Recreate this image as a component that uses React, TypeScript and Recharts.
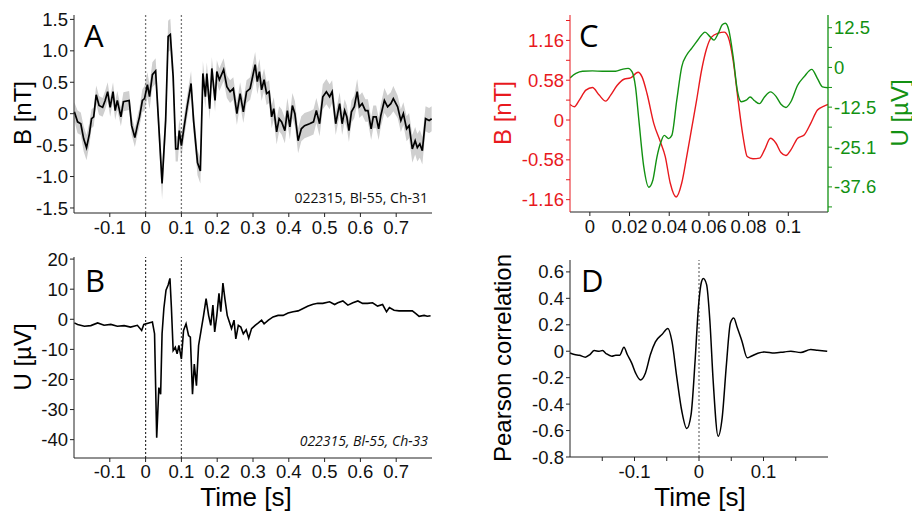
import React from 'react';
import { ComposedChart, LineChart, Line, Area, XAxis, YAxis, ReferenceLine } from 'recharts';

const W = 912;
const H = 511;
const FONT = 'Liberation Sans, Arial, sans-serif';
const LETTER_FONT = 'Open Sans, sans-serif';
const RED = '#e8191e';
const GREEN = '#129112';

// Panel A: mean B field (nT) with error band
const timeA = [
  -0.199, -0.19, -0.181, -0.173, -0.165, -0.157, -0.151, -0.145, -0.138, -0.13,
  -0.12, -0.113, -0.106, -0.099, -0.091, -0.085, -0.079, -0.069, -0.062, -0.046,
  -0.039, -0.03, -0.023, -0.017, -0.009, -0.003, 0.005, 0.011, 0.019, 0.028,
  0.037, 0.046, 0.056, 0.063, 0.069, 0.077, 0.084, 0.09, 0.094, 0.1,
  0.106, 0.116, 0.127, 0.134, 0.145, 0.153, 0.16, 0.167, 0.171, 0.179,
  0.185, 0.194, 0.199, 0.206, 0.218, 0.227, 0.236, 0.245, 0.255, 0.264,
  0.273, 0.282, 0.292, 0.306, 0.312, 0.318, 0.324, 0.331, 0.338, 0.345,
  0.352, 0.358, 0.366, 0.373, 0.38, 0.389, 0.396, 0.403, 0.41, 0.417,
  0.426, 0.435, 0.444, 0.458, 0.469, 0.477, 0.486, 0.495, 0.505, 0.514,
  0.521, 0.531, 0.542, 0.549, 0.556, 0.562, 0.568, 0.575, 0.583, 0.591,
  0.597, 0.605, 0.614, 0.621, 0.63, 0.636, 0.644, 0.651, 0.657, 0.667,
  0.676, 0.685, 0.692, 0.704, 0.713, 0.72, 0.729, 0.736, 0.745, 0.753,
  0.759, 0.766, 0.773, 0.782, 0.792, 0.799,
];
const valA = [
  0.03, -0.13, -0.16, -0.4, -0.54, -0.32, -0.08, -0.05, 0.3, 0.13,
  0.1, 0.21, 0.35, 0.1, 0.35, 0.05, 0.21, -0.05, 0.19, 0.21,
  -0.19, -0.38, -0.19, -0.05, 0.21, 0.24, 0.46, 0.27, 0.62, 0.68,
  -0.21, -1.11, -0.11, 1.23, 1.26, 0.59, -0.56, -0.56, -0.27, -0.51,
  -0.27, 0.11, 0.48, -0.11, -0.78, -0.91, 0.64, 0.27, 0.64, 0.08,
  0.72, 0.21, 0.67, 0.54, 0.7, 0.43, 0.35, 0.4, 0.0, 0.32,
  0.03, 0.35, 0.4, 0.78, 0.51, 0.67, 0.38, 0.54, 0.32, 0.35,
  -0.05, 0.08, -0.29, -0.08, -0.13, -0.27, 0.05, -0.21, 0.13, 0.0,
  -0.43, -0.24, -0.19, -0.16, -0.13, 0.05, -0.16, 0.27, 0.35, 0.27,
  0.35, -0.16, 0.16, -0.16, 0.05, -0.05, -0.27, 0.03, 0.11, 0.35,
  0.11, 0.16, 0.05, 0.05, -0.24, -0.05, -0.05, -0.24, -0.03, 0.21,
  0.11, 0.16, 0.24, 0.11, -0.11, 0.0, -0.24, -0.19, -0.56, -0.43,
  -0.54, -0.48, -0.59, -0.08, -0.11, -0.08,
];
const errA = [
  0.15, 0.18, 0.18, 0.2, 0.2, 0.18, 0.15, 0.15, 0.15, 0.15,
  0.15, 0.15, 0.15, 0.15, 0.15, 0.15, 0.15, 0.15, 0.15, 0.15,
  0.15, 0.15, 0.15, 0.15, 0.18, 0.2, 0.2, 0.2, 0.2, 0.2,
  0.22, 0.25, 0.25, 0.25, 0.25, 0.22, 0.2, 0.2, 0.18, 0.18,
  0.18, 0.18, 0.2, 0.2, 0.2, 0.2, 0.2, 0.18, 0.18, 0.18,
  0.18, 0.18, 0.18, 0.18, 0.18, 0.18, 0.18, 0.18, 0.18, 0.18,
  0.18, 0.18, 0.18, 0.2, 0.2, 0.2, 0.18, 0.18, 0.18, 0.18,
  0.18, 0.18, 0.2, 0.2, 0.2, 0.2, 0.2, 0.2, 0.2, 0.2,
  0.2, 0.2, 0.2, 0.2, 0.2, 0.2, 0.2, 0.2, 0.2, 0.2,
  0.18, 0.18, 0.18, 0.18, 0.18, 0.18, 0.18, 0.18, 0.18, 0.2,
  0.18, 0.18, 0.18, 0.18, 0.18, 0.18, 0.18, 0.18, 0.18, 0.2,
  0.18, 0.18, 0.2, 0.18, 0.18, 0.18, 0.2, 0.2, 0.22, 0.22,
  0.22, 0.22, 0.22, 0.2, 0.2, 0.2,
];

// Panel B: LFP voltage (µV)
const timeB = [
  -0.199, -0.19, -0.171, -0.153, -0.134, -0.116, -0.097, -0.079, -0.06, -0.042,
  -0.023, -0.011, -0.005, 0.009, 0.019, 0.025, 0.031, 0.037, 0.042, 0.046,
  0.051, 0.057, 0.063, 0.068, 0.072, 0.077, 0.083, 0.088, 0.093, 0.1,
  0.106, 0.113, 0.12, 0.125, 0.131, 0.136, 0.142, 0.148, 0.155, 0.162,
  0.169, 0.176, 0.182, 0.188, 0.193, 0.199, 0.205, 0.21, 0.216, 0.222,
  0.228, 0.234, 0.24, 0.247, 0.252, 0.259, 0.266, 0.273, 0.281, 0.288,
  0.296, 0.306, 0.315, 0.324, 0.331, 0.343, 0.356, 0.37, 0.384, 0.398,
  0.412, 0.426, 0.44, 0.454, 0.468, 0.481, 0.495, 0.514, 0.528, 0.537,
  0.551, 0.565, 0.579, 0.593, 0.606, 0.62, 0.634, 0.648, 0.662, 0.673,
  0.681, 0.694, 0.708, 0.727, 0.745, 0.755, 0.764, 0.778, 0.787, 0.796,
];
const valB = [
  -1.2, -1.7, -2.3, -2.1, -1.2, -2.0, -1.7, -2.3, -2.1, -2.6,
  -2.0, -3.7, -1.7, -1.2, -0.9, -4.8, -39.4, -22.7, -24.9, -4.8,
  3.6, 9.7, 11.4, 13.6, 4.1, -10.4, -9.3, -11.5, -8.7, -13.2,
  -3.7, -1.5, -5.4, -5.9, -24.9, -14.9, -22.1, -8.7, -3.7, 1.3,
  6.9, 1.3, -2.0, 4.7, -4.2, 1.3, 8.6, 2.5, 12.0, 6.4,
  1.3, -0.9, -3.1, -0.3, -6.5, -2.0, -2.6, -4.8, -3.5, -6.3,
  -3.1, -2.0, -1.2, -0.3, -1.5, -0.3, 0.8, 1.3, 1.3, 2.1,
  2.5, 2.8, 3.6, 4.4, 5.0, 5.3, 5.3, 5.8, 4.9, 5.5,
  6.1, 4.7, 5.5, 6.1, 5.3, 5.3, 5.5, 4.4, 4.9, 2.5,
  3.9, 3.0, 2.8, 2.8, 2.8, 1.9, 1.0, 1.3, 1.0, 1.2,
];

// Panel C: zoomed overlay, B (red, left axis) and U (green, right axis)
const timeCB = [
  -0.01, -0.0078, -0.0053, -0.002, 0.0013, 0.0047, 0.008, 0.0105, 0.0138, 0.0172,
  0.0205, 0.0243, 0.0263, 0.0288, 0.0322, 0.0355, 0.038, 0.0405, 0.0435, 0.0463,
  0.0488, 0.0513, 0.0538, 0.0563, 0.0588, 0.0613, 0.0647, 0.0677, 0.0697, 0.0722,
  0.0747, 0.0772, 0.0793, 0.0822, 0.0855, 0.088, 0.091, 0.0938, 0.0963, 0.0988,
  0.1013, 0.1047, 0.108, 0.1113, 0.1147, 0.118, 0.12,
];
const valCB = [
  0.227, 0.193, 0.29, 0.435, 0.474, 0.363, 0.275, 0.363, 0.507, 0.594,
  0.614, 0.696, 0.628, 0.387, -0.048, -0.314, -0.532, -0.918, -1.121, -0.918,
  -0.532, -0.121, 0.29, 0.725, 1.039, 1.208, 1.266, 1.281, 1.208, 0.87,
  0.29, -0.242, -0.532, -0.565, -0.556, -0.435, -0.266, -0.338, -0.474, -0.517,
  -0.435, -0.266, -0.217, -0.048, 0.145, 0.203, 0.227,
];
const timeCU = [
  -0.01, -0.007, -0.0037, 0.0013, 0.0063, 0.013, 0.0163, 0.0193, 0.0213, 0.023,
  0.0247, 0.0272, 0.0297, 0.0317, 0.0338, 0.0358, 0.0375, 0.0397, 0.0413, 0.0438,
  0.0463, 0.0488, 0.0513, 0.0538, 0.0563, 0.058, 0.0605, 0.0625, 0.0647, 0.0667,
  0.0683, 0.07, 0.0722, 0.0743, 0.0763, 0.0788, 0.0808, 0.083, 0.0855, 0.088,
  0.091, 0.0938, 0.0963, 0.0988, 0.1013, 0.1047, 0.108, 0.1118, 0.1147, 0.1172,
  0.12,
];
const valCU = [
  -3.3, -1.9, -1.2, -1.1, -1.2, -1.2, -0.6, -0.3, -1.4, -6.1,
  -16.6, -31.4, -37.7, -35.6, -28.2, -23.5, -21.4, -22.4, -21.4, -10.3,
  0.2, 3.9, 6.0, 8.1, 10.2, 11.1, 9.7, 8.6, 10.7, 13.4,
  13.9, 11.8, 3.4, -7.2, -10.8, -10.3, -9.3, -10.5, -11.4, -9.3,
  -7.7, -9.1, -11.6, -12.6, -10.8, -5.6, -2.9, -0.6, -3.5, -6.1,
  -6.4,
];

// Panel D: Pearson correlation vs lag
const lagD = [
  -0.2, -0.1931, -0.1855, -0.1762, -0.1691, -0.1624, -0.1547, -0.1496, -0.1434, -0.1352,
  -0.1291, -0.123, -0.1163, -0.1112, -0.1045, -0.0984, -0.0907, -0.083, -0.0753, -0.0676,
  -0.0574, -0.0482, -0.042, -0.0343, -0.0266, -0.019, -0.0123, -0.0061, -0.001, 0.0041,
  0.0067, 0.0118, 0.0169, 0.022, 0.0297, 0.0359, 0.0425, 0.0487, 0.0538, 0.0594,
  0.0666, 0.0748, 0.0809, 0.0912, 0.1014, 0.1168, 0.1322, 0.1424, 0.1578, 0.1732,
  0.1834, 0.1988,
];
const corrD = [
  -0.013, -0.025, -0.03, -0.045, -0.025, 0.005, 0.0, 0.005, -0.02, -0.038,
  -0.03, -0.03, 0.03, -0.025, -0.088, -0.164, -0.217, -0.164, -0.025, 0.071,
  0.126, 0.172, 0.076, -0.202, -0.454, -0.585, -0.479, -0.076, 0.328, 0.53,
  0.55, 0.504, 0.227, -0.227, -0.643, -0.504, -0.101, 0.214, 0.252, 0.177,
  0.076, -0.05, -0.038, -0.015, -0.005, -0.013, -0.005, 0.0, -0.01, 0.013,
  0.008, 0.0,
];

const xTicksAB = [-0.1, 0, 0.1, 0.2, 0.3, 0.4, 0.5, 0.6, 0.7];
const yTicksA = [-1.5, -1, -0.5, 0, 0.5, 1, 1.5];
const yTicksB = [-40, -30, -20, -10, 0, 10, 20];
const xTicksC = [0, 0.02, 0.04, 0.06, 0.08, 0.1];
const redTicksC = [-1.16, -0.87, -0.58, -0.29, 0, 0.29, 0.58, 0.87, 1.16, 1.45];
const redLabelsC = ['-1.16', '', '-0.58', '', '0', '', '0.58', '', '1.16', ''];
const greenTicksC = [-43.9, -37.6, -31.4, -25.1, -18.8, -12.5, -6.3, 0, 6.3, 12.5];
const greenLabelsC = ['', '-37.6', '', '-25.1', '', '-12.5', '', '0', '', '12.5'];
const xTicksD = [-0.15, -0.1, -0.05, 0, 0.05, 0.1, 0.15];
const xLabelsD = ['', '-0.1', '', '0', '', '0.1', ''];
const yTicksD = [-0.8, -0.6, -0.4, -0.2, 0, 0.2, 0.4, 0.6];

const rowsA = timeA.map((t, i) => ({
  t,
  b: valA[i],
  band: [valA[i] - errA[i], valA[i] + errA[i]],
}));
const rowsB = timeB.map((t, i) => ({ t, u: valB[i] }));
const rowsCB = timeCB.map((t, i) => ({ t, b: valCB[i] }));
const rowsCU = timeCU.map((t, i) => ({ t, u: valCU[i] }));
const rowsD = lagD.map((t, i) => ({ t, r: corrD[i] }));

const tick = { fill: '#111', fontSize: 18.5, fontFamily: FONT };
const axisLine = { stroke: '#222', strokeWidth: 1 };

const layer: React.CSSProperties = { position: 'absolute', left: 0, top: 0 };

const App: React.FC = () => {
  return (
    <div style={{ position: 'absolute', left: 0, top: 0, width: W, height: H, background: '#fff', overflow: 'hidden' }}>
      {/* A */}
      <div style={layer}>
        <ComposedChart width={W} height={H} data={rowsA} margin={{ top: 15, right: 480, bottom: 297, left: 73 }}>
          <XAxis dataKey="t" type="number" domain={[-0.2, 0.8]} ticks={xTicksAB} interval={0}
            tick={tick} tickSize={4} tickMargin={4} axisLine={axisLine} tickLine={axisLine} height={1} />
          <YAxis type="number" domain={[-1.58, 1.57]} ticks={yTicksA} interval={0} width={1}
            tickFormatter={(v: number) => (v === 0 ? '0' : v.toFixed(1))}
            tick={tick} tickSize={4} tickMargin={2} axisLine={axisLine} tickLine={axisLine} />
          <Area dataKey="band" type="linear" stroke="none" fill="#cfcfcf" fillOpacity={1} isAnimationActive={false} />
          <ReferenceLine x={0} stroke="#777" strokeDasharray="2 2" strokeWidth={1.3} />
          <ReferenceLine x={0.1} stroke="#777" strokeDasharray="2 2" strokeWidth={1.3} />
          <Line dataKey="b" type="linear" stroke="#000" strokeWidth={1.7} dot={false} activeDot={false} isAnimationActive={false} />
        </ComposedChart>
      </div>

      {/* B */}
      <div style={layer}>
        <LineChart width={W} height={H} data={rowsB} margin={{ top: 257, right: 480, bottom: 52, left: 73 }}>
          <XAxis dataKey="t" type="number" domain={[-0.2, 0.8]} ticks={xTicksAB} interval={0}
            tick={tick} tickSize={4} tickMargin={3} axisLine={axisLine} tickLine={axisLine} height={1} />
          <YAxis type="number" domain={[-46.1, 20.7]} ticks={yTicksB} interval={0} width={1}
            tick={tick} tickSize={4} tickMargin={2} axisLine={axisLine} tickLine={axisLine} />
          <ReferenceLine x={0} stroke="#333" strokeDasharray="2 2" strokeWidth={1.2} />
          <ReferenceLine x={0.1} stroke="#555" strokeDasharray="2 2" strokeWidth={1.2} />
          <Line dataKey="u" type="linear" stroke="#000" strokeWidth={1.6} dot={false} activeDot={false} isAnimationActive={false} />
        </LineChart>
      </div>

      {/* C */}
      <div style={layer}>
        <LineChart width={W} height={H} margin={{ top: 15, right: 83, bottom: 298, left: 569 }}>
          <XAxis dataKey="t" type="number" domain={[-0.01, 0.12]} ticks={xTicksC} interval={0} allowDataOverflow
            tick={tick} tickSize={4} tickMargin={4} axisLine={axisLine} tickLine={axisLine} height={1} />
          <YAxis yAxisId="b" orientation="left" type="number" domain={[-1.34, 1.53]} ticks={redTicksC} interval={0} width={1}
            tickFormatter={(v: number) => redLabelsC[redTicksC.indexOf(v)] ?? ''}
            tick={{ ...tick, fill: RED }} tickSize={4} tickMargin={2}
            axisLine={{ stroke: RED, strokeWidth: 1 }} tickLine={{ stroke: RED, strokeWidth: 1 }} />
          <YAxis yAxisId="u" orientation="right" type="number" domain={[-45.5, 16.5]} ticks={greenTicksC} interval={0} width={1}
            tickFormatter={(v: number) => greenLabelsC[greenTicksC.indexOf(v)] ?? ''}
            tick={{ ...tick, fill: GREEN }} tickSize={4} tickMargin={2}
            axisLine={{ stroke: GREEN, strokeWidth: 1.3 }} tickLine={{ stroke: GREEN, strokeWidth: 1 }} />
          <Line yAxisId="b" data={rowsCB} dataKey="b" type="monotone" stroke={RED} strokeWidth={1.4} dot={false} activeDot={false} isAnimationActive={false} />
          <Line yAxisId="u" data={rowsCU} dataKey="u" type="monotone" stroke={GREEN} strokeWidth={1.4} dot={false} activeDot={false} isAnimationActive={false} />
        </LineChart>
      </div>

      {/* D */}
      <div style={layer}>
        <LineChart width={W} height={H} data={rowsD} margin={{ top: 260, right: 84, bottom: 53, left: 569 }}>
          <XAxis dataKey="t" type="number" domain={[-0.2, 0.2]} ticks={xTicksD} interval={0}
            tickFormatter={(v: number) => xLabelsD[xTicksD.indexOf(v)] ?? ''}
            tick={tick} tickSize={4} tickMargin={4} axisLine={axisLine} tickLine={axisLine} height={1} />
          <YAxis type="number" domain={[-0.8, 0.69]} ticks={yTicksD} interval={0} width={1}
            tick={tick} tickSize={4} tickMargin={2} axisLine={axisLine} tickLine={axisLine} />
          <ReferenceLine x={0} stroke="#777" strokeDasharray="2 2" strokeWidth={1.3} />
          <Line dataKey="r" type="monotone" stroke="#000" strokeWidth={1.5} dot={false} activeDot={false} isAnimationActive={false} />
        </LineChart>
      </div>

      {/* titles, panel letters, annotations */}
      <svg width={W} height={H} style={{ ...layer, pointerEvents: 'none' }}>
        <g fontFamily={FONT} fontSize={24} fill="#000" textAnchor="middle" dominantBaseline="central">
          <text transform="translate(22,113) rotate(-90)">B [nT]</text>
          <text transform="translate(22,357) rotate(-90)">U [µV]</text>
          <text transform="translate(502,113) rotate(-90)" fill={RED}>B [nT]</text>
          <text transform="translate(899,113) rotate(-90)" fill={GREEN}>U [µV]</text>
          <text transform="translate(502,358) rotate(-90)">Pearson correlation</text>
          <text x={246} y={497} fontSize={26}>Time [s]</text>
          <text x={700} y={497} fontSize={26}>Time [s]</text>
        </g>
        <g fontFamily={LETTER_FONT} fontSize={31} fill="#000">
          <text x={84} y={47}>A</text>
          <text x={85} y={292}>B</text>
          <text x={579} y={47}>C</text>
          <text x={581} y={292}>D</text>
        </g>
        <g fontFamily={LETTER_FONT} fontSize={14} fill="#111" textAnchor="end">
          <text x={428} y={203}>022315, Bl-55, Ch-31</text>
          <text x={428} y={446} fontStyle="italic">022315, Bl-55, Ch-33</text>
        </g>
      </svg>
    </div>
  );
};

export default App;
